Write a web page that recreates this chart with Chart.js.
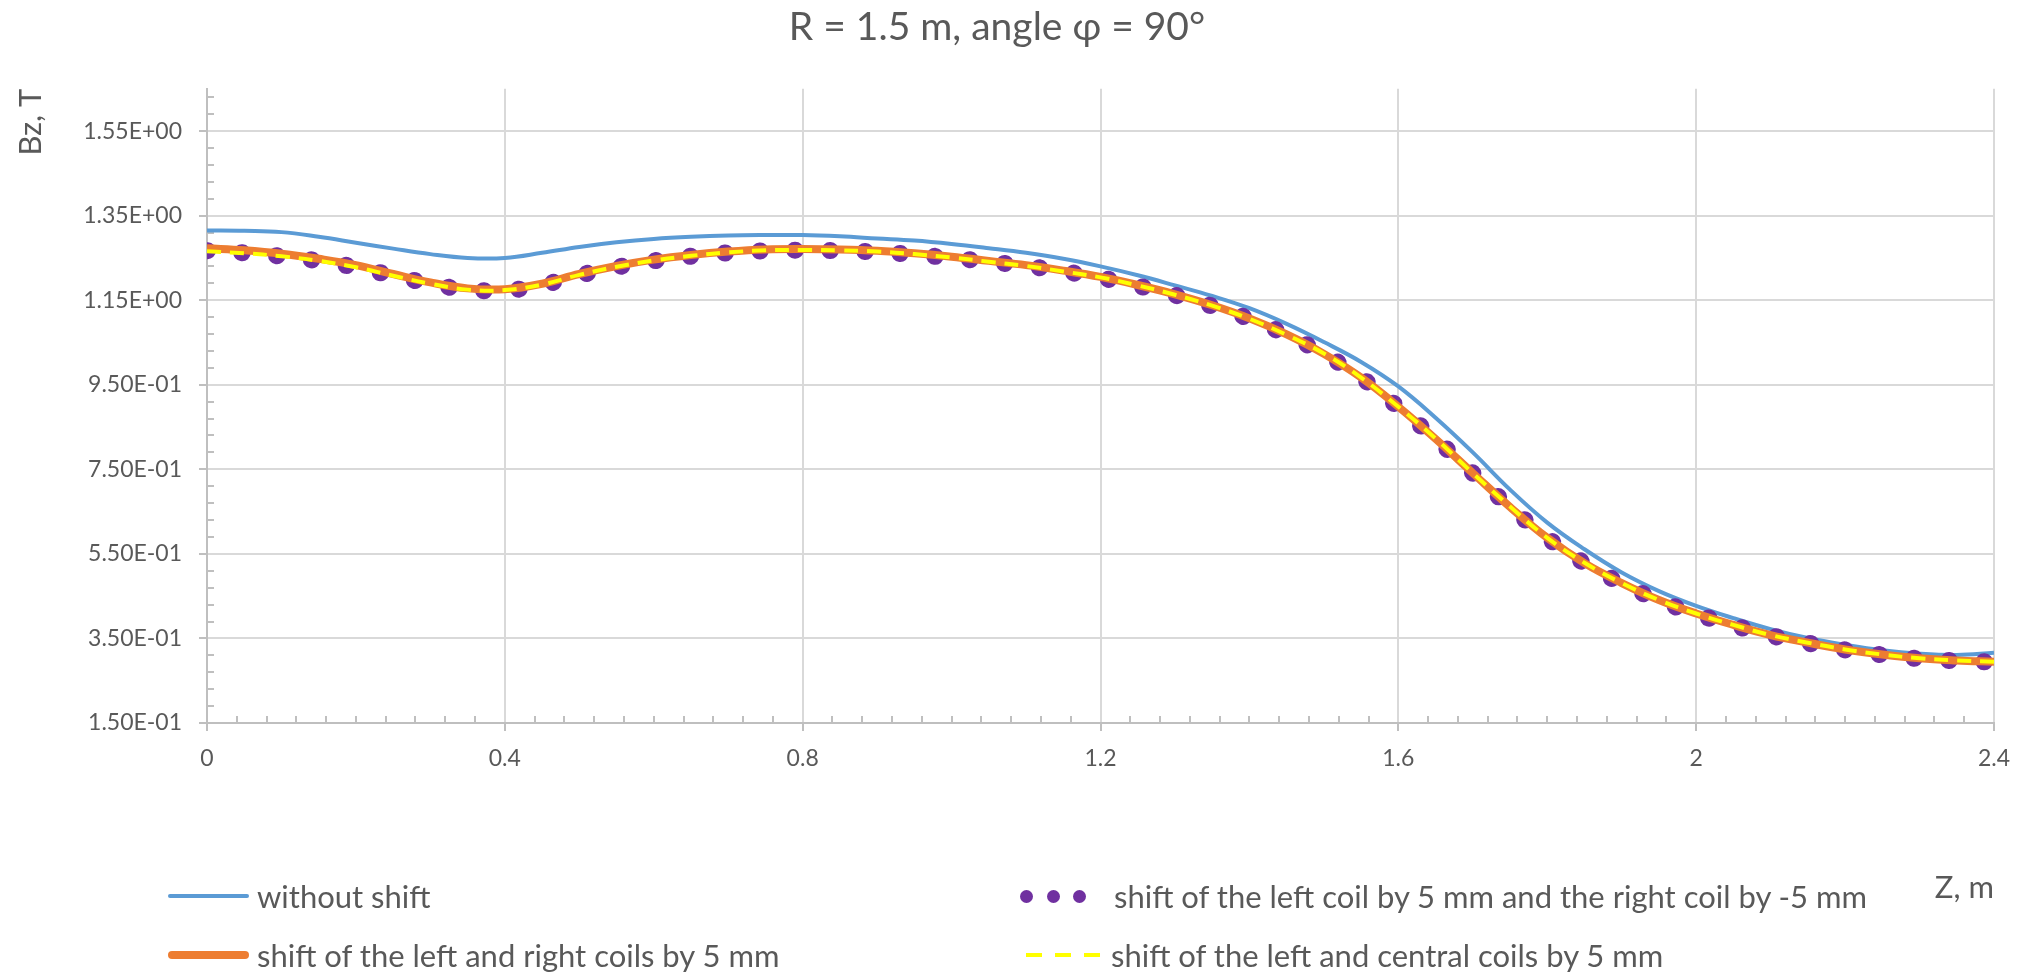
<!DOCTYPE html>
<html>
<head>
<meta charset="utf-8">
<title>Bz along Z</title>
<script src="https://cdn.jsdelivr.net/npm/chart.js@4.4.1/dist/chart.umd.min.js"></script>
<style>
	html, body { margin: 0; padding: 0; background: #ffffff; }
	#wrap { position: relative; width: 2026px; height: 972px; font-family: Lato, sans-serif; color: #595959; }
	#bzChart { position: absolute; left: 0; top: 0; }
	.legend-item { position: absolute; display: flex; align-items: center; font-size: 31px; white-space: nowrap; transform: translateY(-50%); }
	.legend-sample { position: relative; flex: none; height: 14px; }
</style>
</head>
<body>
<div id="wrap">
	<canvas id="bzChart" width="2026" height="972"></canvas>
	<div id="chart-legend"></div>
</div>
<script>
// Z, m
const zValues = [
	0, 0.05, 0.1, 0.15, 0.2, 0.25, 0.3, 0.35, 0.4, 0.45,
	0.5, 0.55, 0.6, 0.65, 0.7, 0.75, 0.8, 0.85, 0.9, 0.95,
	1, 1.05, 1.1, 1.15, 1.2, 1.25, 1.3, 1.35, 1.4, 1.45,
	1.5, 1.55, 1.6, 1.65, 1.7, 1.75, 1.8, 1.85, 1.9, 1.95,
	2, 2.05, 2.1, 2.15, 2.2, 2.25, 2.3, 2.35, 2.4
];

// Bz, T
const withoutShift = [
	1.315, 1.314, 1.311, 1.300, 1.286, 1.272, 1.259, 1.250, 1.250, 1.262,
	1.276, 1.287, 1.295, 1.300, 1.303, 1.304, 1.304, 1.301, 1.296, 1.291,
	1.283, 1.273, 1.262, 1.248, 1.230, 1.209, 1.185, 1.160, 1.131, 1.094,
	1.051, 1.004, 0.946, 0.872, 0.790, 0.702, 0.624, 0.561, 0.506, 0.462,
	0.427, 0.398, 0.372, 0.351, 0.335, 0.322, 0.314, 0.311, 0.316
];
const shiftLeftRight = [
	1.273, 1.268, 1.260, 1.248, 1.233, 1.212, 1.192, 1.178, 1.176, 1.189,
	1.212, 1.231, 1.246, 1.257, 1.265, 1.270, 1.271, 1.270, 1.267, 1.261,
	1.253, 1.243, 1.233, 1.220, 1.205, 1.186, 1.164, 1.138, 1.107, 1.069,
	1.023, 0.967, 0.898, 0.822, 0.741, 0.661, 0.588, 0.528, 0.481, 0.441,
	0.409, 0.382, 0.358, 0.340, 0.324, 0.312, 0.303, 0.298, 0.295
];
const shiftLeftPlusRightMinus = [
	1.267, 1.262, 1.254, 1.243, 1.228, 1.208, 1.189, 1.175, 1.173, 1.186,
	1.209, 1.228, 1.243, 1.254, 1.262, 1.267, 1.268, 1.267, 1.264, 1.258,
	1.250, 1.241, 1.231, 1.218, 1.203, 1.184, 1.162, 1.136, 1.106, 1.068,
	1.023, 0.967, 0.897, 0.822, 0.741, 0.661, 0.588, 0.528, 0.480, 0.440,
	0.408, 0.381, 0.357, 0.339, 0.323, 0.311, 0.302, 0.297, 0.294
];
const shiftLeftCentral = [
	1.266, 1.261, 1.254, 1.243, 1.228, 1.208, 1.189, 1.175, 1.174, 1.187,
	1.210, 1.229, 1.244, 1.255, 1.263, 1.268, 1.269, 1.268, 1.265, 1.259,
	1.251, 1.241, 1.231, 1.218, 1.204, 1.185, 1.163, 1.137, 1.106, 1.068,
	1.024, 0.967, 0.898, 0.823, 0.741, 0.662, 0.588, 0.529, 0.481, 0.441,
	0.409, 0.382, 0.358, 0.340, 0.324, 0.312, 0.303, 0.298, 0.295
];

// Nhãn trục
const yTickValues = [0.15, 0.35, 0.55, 0.75, 0.95, 1.15, 1.35, 1.55];
const seriesNames = [
	"without shift",
	"shift of the left coil by 5 mm and the right coil by -5 mm",
	"shift of the left and right coils by 5 mm",
	"shift of the left and central coils by 5 mm"
];

const textColor = '#595959';
const gridColor = '#d9d9d9';
const axisColor = '#bfbfbf';

const toPoints = values => zValues.map((z, i) => ({ x: z, y: values[i] }));

// 1.55 -> "1.55E+00"
function sciLabel(v) {
	const [m, e] = Number(v).toExponential(2).split('e');
	const n = Number(e);
	return m + 'E' + (n < 0 ? '-' : '+') + String(Math.abs(n)).padStart(2, '0');
}

// vạch chia phụ bên trong vùng vẽ
const minorTicks = {
	id: 'minorTicks',
	beforeDatasetsDraw(chart) {
		const { ctx, chartArea, scales: { x, y } } = chart;
		ctx.save();
		ctx.strokeStyle = axisColor;
		ctx.lineWidth = 2;
		ctx.beginPath();
		for (let k = 1; k < 60; k++) {
			if (k % 10 === 0) continue;
			const px = Math.round(x.getPixelForValue(k * 0.04));
			ctx.moveTo(px, chartArea.bottom);
			ctx.lineTo(px, chartArea.bottom - 7);
		}
		for (let k = 1; k < 38; k++) {
			if (k % 5 === 0) continue;
			const py = Math.round(y.getPixelForValue(0.15 + k * 0.04));
			ctx.moveTo(chartArea.left, py);
			ctx.lineTo(chartArea.left + 7, py);
		}
		ctx.stroke();
		ctx.restore();
	}
};

Chart.defaults.font.family = 'Lato';
Chart.defaults.color = textColor;

const datasets = [
	{
		label: seriesNames[0],
		data: toPoints(withoutShift),
		borderColor: '#5b9bd5',
		borderWidth: 4,
		order: 3
	},
	{
		label: seriesNames[1],
		data: toPoints(shiftLeftPlusRightMinus),
		borderColor: '#7030a0',
		borderWidth: 17,
		borderDash: [0.5, 34.5],
		borderCapStyle: 'round',
		order: 2
	},
	{
		label: seriesNames[2],
		data: toPoints(shiftLeftRight),
		borderColor: '#ed7d31',
		borderWidth: 8,
		order: 1
	},
	{
		label: seriesNames[3],
		data: toPoints(shiftLeftCentral),
		borderColor: '#ffff00',
		borderWidth: 4,
		borderDash: [14, 9],
		order: 0
	}
];

const bzCtx = document.getElementById('bzChart');
const bzChart = new Chart(bzCtx, {
	type: 'line',
	data: { datasets: datasets },
	options: {
		responsive: false,
		animation: false,
		elements: {
			point: { radius: 0, hoverRadius: 0 },
			line: { tension: 0.4, fill: false }
		},
		layout: { padding: { left: 0, right: 32, top: 0, bottom: 0 } },
		plugins: {
			legend: { display: false },
			tooltip: { enabled: false },
			title: {
				display: true,
				text: 'R = 1.5 m, angle φ = 90°',
				color: textColor,
				font: { size: 39, weight: 'normal' },
				padding: { top: 4, bottom: 38 }
			}
		},
		scales: {
			x: {
				type: 'linear',
				min: 0,
				max: 2.4,
				ticks: {
					stepSize: 0.4,
					color: textColor,
					font: { size: 23 },
					padding: 14,
					maxRotation: 0,
					callback: value => String(Number(value.toFixed(2)))
				},
				grid: { color: gridColor, lineWidth: 2, tickLength: 8, tickColor: axisColor },
				border: { color: axisColor, width: 2 },
				title: {
					display: true,
					text: 'Z, m',
					align: 'end',
					color: textColor,
					font: { size: 31 },
					padding: { top: 0, bottom: 65 }
				},
				afterFit(scale) { scale.height = 249; }
			},
			y: {
				type: 'linear',
				min: 0.15,
				max: 1.65,
				afterBuildTicks(scale) {
					scale.ticks = yTickValues.map(v => ({ value: v }));
				},
				ticks: {
					color: textColor,
					font: { size: 23 },
					padding: 17,
					callback: value => sciLabel(value)
				},
				grid: { color: gridColor, lineWidth: 2, tickLength: 8, tickColor: axisColor },
				border: { color: axisColor, width: 2 },
				title: {
					display: true,
					text: 'Bz, T',
					align: 'end',
					color: textColor,
					font: { size: 31 },
					padding: { top: 12, bottom: 0 }
				},
				afterFit(scale) { scale.width = 207; }
			}
		}
	},
	plugins: [minorTicks]
});

// Tạo HTML cho legend (2 cột như bản gốc)
const legendSlots = [
	{ index: 0, left: 168, top: 896, sample: 81, gap: 8 },
	{ index: 1, left: 1020, top: 896, sample: 66, gap: 28 },
	{ index: 2, left: 168, top: 955, sample: 81, gap: 8 },
	{ index: 3, left: 1026, top: 955, sample: 75, gap: 10 }
];

function sampleHtml(ds, w) {
	if (ds.borderCapStyle === 'round' && ds.borderDash) {
		const d = 13;
		const step = (w - d) / 2;
		return [0, 1, 2].map(i =>
			`<span style="position:absolute;left:${i * step}px;top:${7 - d / 2}px;width:${d}px;height:${d}px;border-radius:50%;background:${ds.borderColor}"></span>`
		).join('');
	}
	if (ds.borderDash) {
		const [on, off] = [16, 13];
		return `<span style="position:absolute;left:0;top:${7 - ds.borderWidth / 2}px;width:${w}px;height:${ds.borderWidth}px;background:repeating-linear-gradient(to right, ${ds.borderColor} 0 ${on}px, transparent ${on}px ${on + off}px)"></span>`;
	}
	return `<span style="position:absolute;left:0;top:${7 - ds.borderWidth / 2}px;width:${w}px;height:${ds.borderWidth}px;border-radius:${ds.borderWidth / 2}px;background:${ds.borderColor}"></span>`;
}

const legendContainer = document.getElementById('chart-legend');
legendContainer.innerHTML = legendSlots.map(slot => {
	const ds = datasets[slot.index];
	return `
	<div class="legend-item" style="left:${slot.left}px;top:${slot.top}px">
		<span class="legend-sample" style="width:${slot.sample}px;margin-right:${slot.gap}px">${sampleHtml(ds, slot.sample)}</span>
		<span>${ds.label}</span>
	</div>`;
}).join('');
</script>
</body>
</html>
